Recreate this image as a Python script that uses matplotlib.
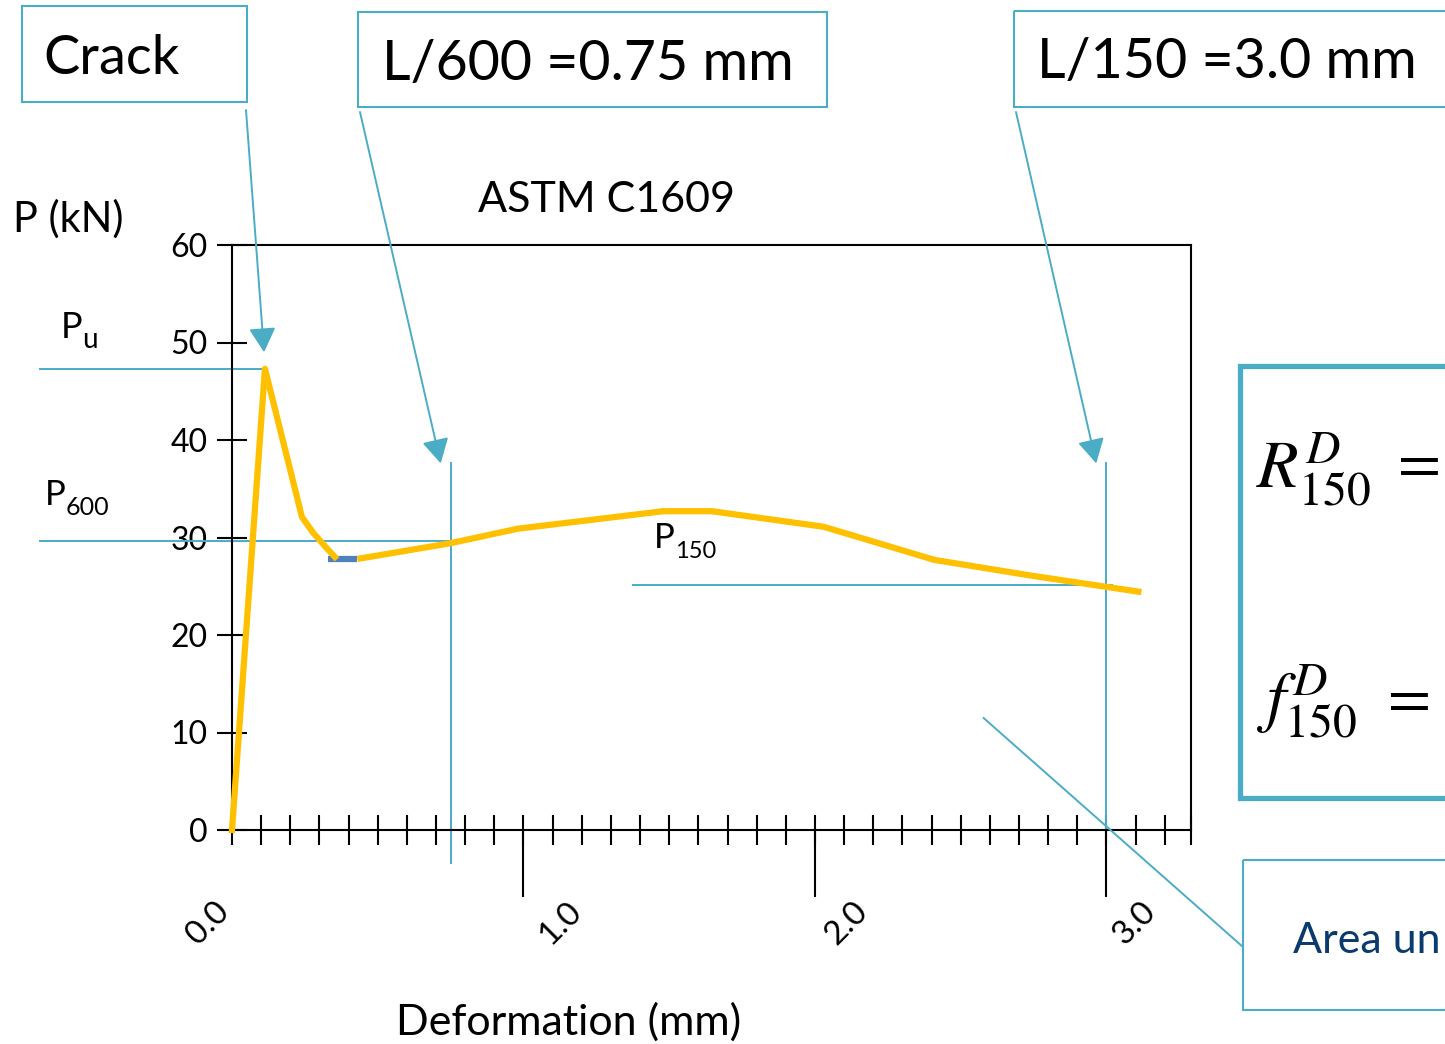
import numpy as np
import matplotlib
matplotlib.use('Agg')
import matplotlib.pyplot as plt
import matplotlib.transforms as mtransforms
from matplotlib.patches import Rectangle, ConnectionPatch
from matplotlib.lines import Line2D

plt.rcParams['font.family'] = ['Lato', 'DejaVu Sans']
plt.rcParams['mathtext.fontset'] = 'stix'

# load - deflection curve
defl = [0.0, 0.113, 0.24, 0.278, 0.319, 0.353]
load = [0.0, 47.3, 32.1, 30.5, 29.1, 28.0]
flat_defl = [0.33, 0.43]
flat_load = [27.8, 27.8]
tail_defl = [0.43, 0.747, 0.98, 1.48, 1.646, 2.03, 2.41, 2.74, 3.12]
tail_load = [27.8, 29.4, 30.9, 32.7, 32.7, 31.1, 27.7, 26.1, 24.4]

p_u = 47.3
p_600 = 29.6
p_150 = 25.1
d_600 = 0.75
d_150 = 3.0

yticks = [0, 10, 20, 30, 40, 50, 60]
xmajor = [1.0, 2.0, 3.0]
xminor = list(np.round(np.arange(0, 3.25, 0.1), 1)) + [3.29]
xlabels = ['0.0', '1.0', '2.0', '3.0']
xlabel_pos = [0.0, 1.0, 2.0, 3.0]

blue = '#4BACC6'
yellow = '#FFC000'

W, H = 1445, 1044
fig = plt.figure(figsize=(W / 100, H / 100), dpi=100)
# pixel coords, origin top-left, for the slide decorations
px = mtransforms.Affine2D().scale(1 / W, -1 / H).translate(0, 1) + fig.transFigure

ax = fig.add_axes([232 / W, 1 - 830 / H, (1191 - 232) / W, (830 - 245) / H])
ax.set_xlim(0, 3.29)
ax.set_ylim(0, 60)
for s in ax.spines.values():
    s.set_linewidth(1.5)

ax.set_yticks(yticks)
ax.tick_params(axis='y', direction='inout', length=21, width=1.5, labelsize=23, pad=7)
ax.set_xticks(xmajor)
ax.set_xticklabels([])
ax.set_xticks(xminor, minor=True)
ax.xaxis.remove_overlapping_locs = False
ax.tick_params(axis='x', which='major', direction='out', length=48, width=1.5)
ax.tick_params(axis='x', which='minor', direction='inout', length=22, width=1.5)

xoffs = [-24, 37, 32, 28]
for pos, lab, dx in zip(xlabel_pos, xlabels, xoffs):
    ax.annotate(lab, xy=(pos, 0), xycoords=('data', 'axes fraction'),
                xytext=(dx, -93), textcoords='offset pixels',
                rotation=45, ha='center', va='center', fontsize=24,
                annotation_clip=False)

# curve
ax.plot(flat_defl, flat_load, color='#4F81BD', lw=4.5, solid_capstyle='butt', zorder=3)
ax.plot(defl, load, color=yellow, lw=4.5, clip_on=False, zorder=4)
ax.plot(tail_defl, tail_load, color=yellow, lw=4.5, solid_capstyle='butt', zorder=4)

# reference lines
ax.plot([-0.658, 0.113], [p_u, p_u], color=blue, lw=1.4, clip_on=False)
ax.plot([-0.658, 0.82], [p_600, p_600], color=blue, lw=1.4, clip_on=False)
ax.plot([1.375, 3.02], [p_150, p_150], color=blue, lw=1.4, clip_on=False)
ax.plot([d_600, d_600], [37.6, -3.4], color=blue, lw=1.4, clip_on=False)
ax.plot([d_150, d_150], [37.6, 0], color=blue, lw=1.4, clip_on=False)

# text
fig.text(606, 212, 'ASTM C1609', transform=px, ha='center', va='baseline', fontsize=31)
fig.text(13, 232, 'P (kN)', transform=px, ha='left', va='baseline', fontsize=30)
fig.text(569, 1035, 'Deformation (mm)', transform=px, ha='center', va='baseline', fontsize=31)

fig.text(61, 338, 'P', transform=px, va='baseline', fontsize=26)
fig.text(82, 348, 'u', transform=px, va='baseline', fontsize=20)
fig.text(45, 505, 'P', transform=px, va='baseline', fontsize=25)
fig.text(66, 515, '600', transform=px, va='baseline', fontsize=18)
fig.text(654, 548, 'P', transform=px, va='baseline', fontsize=25)
fig.text(675, 558, '150', transform=px, va='baseline', fontsize=17)

# boxes
boxes = [(22, 6, 225, 96), (358, 12, 469, 95), (1014, 11, 500, 96), (1243, 860, 300, 150)]
for x0, y0, w, h in boxes:
    fig.add_artist(Rectangle((x0, y0), w, h, transform=px, fill=False,
                             ec=blue, lw=1.5, joinstyle='miter'))
# thick formula box, its right side runs off the slide
fig.add_artist(Line2D([1500, 1240, 1240, 1500], [366, 366, 798, 798], transform=px,
                      color=blue, lw=3.8, solid_joinstyle='miter'))

fig.text(43, 74, 'Crack', transform=px, va='baseline', fontsize=39)
fig.text(382, 80, 'L/600 =0.75 mm', transform=px, va='baseline', fontsize=40)
fig.text(1037, 78, 'L/150 =3.0 mm', transform=px, va='baseline', fontsize=40)
fig.text(1293, 953, 'Area un', transform=px, va='baseline', fontsize=31, color='#0B3A6E')

# formulas in the right box
fig.text(1256, 488, r'$R_{150}^{D}$', transform=px, va='baseline', fontsize=49)
fig.text(1398, 483, '=', transform=px, va='baseline', fontsize=45, family='STIXGeneral')
fig.text(1256, 720, r'$f_{150}^{D}$', transform=px, va='baseline', fontsize=49)
fig.text(1388, 718, '=', transform=px, va='baseline', fontsize=45, family='STIXGeneral')

# arrows from the boxes
arrows = [((0.11, 49.0), (246, 110)), ((0.716, 37.6), (360, 112)), ((2.965, 37.6), (1016, 112))]
for tip, tail in arrows:
    ax.annotate('', xy=tip, xycoords='data', xytext=tail, textcoords=px,
                annotation_clip=False,
                arrowprops=dict(arrowstyle='-|>,head_length=0.6,head_width=0.33',
                                color=blue, lw=1.4, mutation_scale=25,
                                shrinkA=0, shrinkB=0))

fig.add_artist(ConnectionPatch(xyA=(2.578, 11.5), coordsA=ax.transData,
                               xyB=(1243, 947), coordsB=px, color=blue, lw=1.4))

fig.savefig('out.png', dpi=100)
